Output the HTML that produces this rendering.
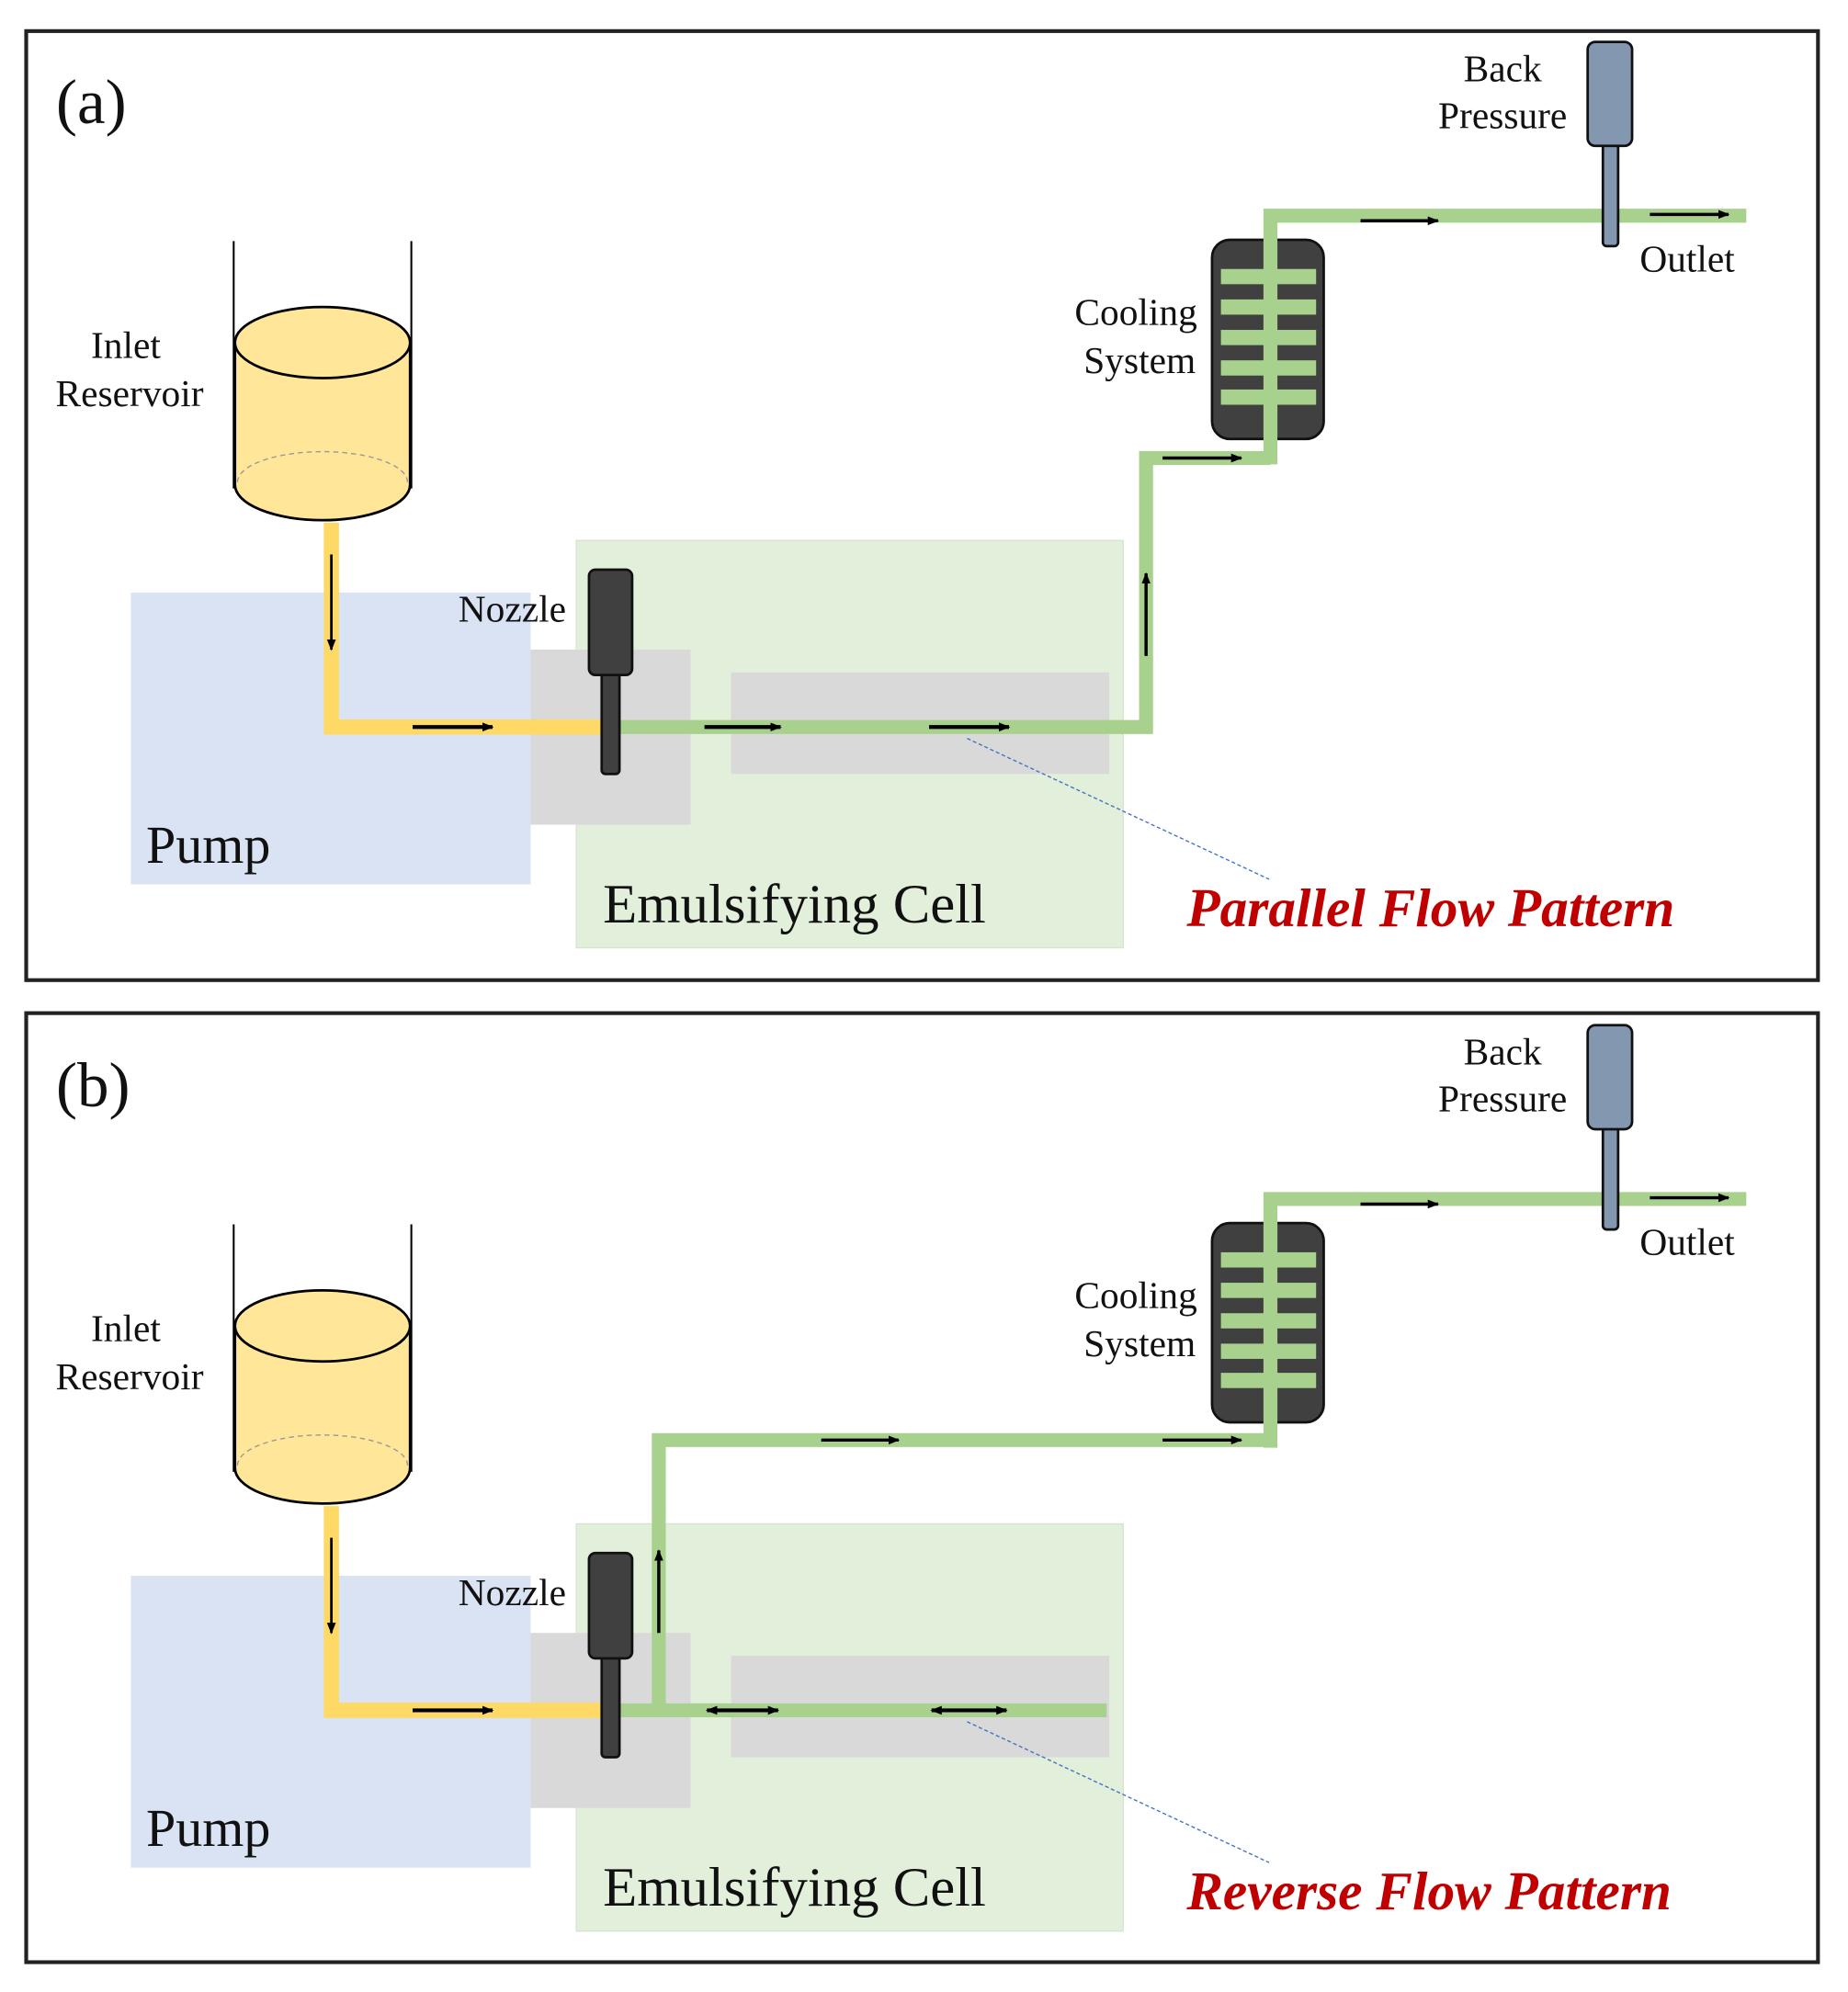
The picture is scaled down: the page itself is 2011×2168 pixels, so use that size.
<!DOCTYPE html>
<html><head><meta charset="utf-8"><style>
html,body{margin:0;padding:0;background:#fff}
svg{display:block;font-family:"Liberation Serif","Times New Roman",serif}
</style></head><body>
<svg width="2011" height="2168" viewBox="0 0 1456 1570" xmlns="http://www.w3.org/2000/svg" font-family="Liberation Serif, serif" fill="#111">
<defs>
<marker id="ah" markerWidth="10" markerHeight="10" refX="8" refY="5" orient="auto" markerUnits="userSpaceOnUse"><path d="M0,1.5 L9,5 L0,8.5 Z" fill="#000"/></marker>
<marker id="at" markerWidth="10" markerHeight="10" refX="1" refY="5" orient="auto" markerUnits="userSpaceOnUse"><path d="M9,1.5 L0,5 L9,8.5 Z" fill="#000"/></marker>
<g id="common">
  <line x1="184" y1="190" x2="184" y2="385" stroke="#000" stroke-width="1.5"/>
  <line x1="324" y1="190" x2="324" y2="385" stroke="#000" stroke-width="1.5"/>
  <path d="M185,270 L185,382 A69,28 0 0 0 323,382 L323,270 Z" fill="#ffe699" stroke="#000" stroke-width="2"/>
  <ellipse cx="254" cy="270" rx="69" ry="28" fill="#ffe699" stroke="#000" stroke-width="2"/>
  <path d="M187,380 A67,24 0 0 1 321,380" fill="none" stroke="#999" stroke-width="1" stroke-dasharray="4,3"/>
  <text x="99" y="282" font-size="30" text-anchor="middle" font-family="Liberation Serif, serif">Inlet</text>
  <text x="102" y="320" font-size="30" text-anchor="middle" font-family="Liberation Serif, serif">Reservoir</text>
  <rect x="103" y="467" width="315" height="230" fill="#dae3f3"/>
  <text x="115" y="680" font-size="42" font-family="Liberation Serif, serif">Pump</text>
  <rect x="454" y="426" width="431" height="321" fill="#e2efda" stroke="#d8e4d0"/>
  <text x="475" y="727" font-size="44" font-family="Liberation Serif, serif">Emulsifying Cell</text>
  <rect x="418" y="512" width="126" height="138" fill="#d9d9d9"/>
  <rect x="576" y="530" width="298" height="80" fill="#d9d9d9"/>
  <path d="M261,412 L261,573 L475,573" fill="none" stroke="#ffd966" stroke-width="12"/>
  <line x1="261" y1="437" x2="261" y2="512" stroke="#000" stroke-width="2" marker-end="url(#ah)"/>
  <line x1="325" y1="573" x2="388" y2="573" stroke="#000" stroke-width="3" marker-end="url(#ah)"/>
  <rect x="955" y="189" width="88" height="157" rx="14" fill="#404040" stroke="#111" stroke-width="2"/>
  <g fill="#a9d18e">
    <rect x="962" y="212" width="75" height="12"/><rect x="962" y="236" width="75" height="12"/>
    <rect x="962" y="260" width="75" height="12"/><rect x="962" y="284" width="75" height="12"/>
    <rect x="962" y="307" width="75" height="12"/>
  </g>
  <text x="895" y="256" font-size="30" text-anchor="middle" font-family="Liberation Serif, serif">Cooling</text>
  <text x="898" y="294" font-size="30" text-anchor="middle" font-family="Liberation Serif, serif">System</text>
  <path d="M1001,366 L1001,170 L1376,170" fill="none" stroke="#a9d18e" stroke-width="11"/>
  <line x1="1072" y1="174" x2="1133" y2="174" stroke="#000" stroke-width="2.5" marker-end="url(#ah)"/>
  <line x1="1300" y1="169" x2="1362" y2="169" stroke="#000" stroke-width="2.5" marker-end="url(#ah)"/>
  <rect x="1263" y="112" width="12" height="82" rx="3" fill="#8497b0" stroke="#111" stroke-width="2"/>
  <rect x="1251" y="33" width="35" height="82" rx="6" fill="#8497b0" stroke="#111" stroke-width="2"/>
  <text x="1184" y="64" font-size="30" text-anchor="middle" font-family="Liberation Serif, serif">Back</text>
  <text x="1184" y="101" font-size="30" text-anchor="middle" font-family="Liberation Serif, serif">Pressure</text>
  <text x="1292" y="214" font-size="30" font-family="Liberation Serif, serif">Outlet</text>
  <text x="361" y="490" font-size="30" font-family="Liberation Serif, serif">Nozzle</text>
  <line x1="762" y1="582" x2="1000" y2="693" stroke="#4472c4" stroke-width="1" stroke-dasharray="3,2"/>
</g>
<g id="nozzle">
  <rect x="474" y="525" width="14" height="85" rx="3" fill="#404040" stroke="#111" stroke-width="2"/>
  <rect x="464" y="449" width="34" height="83" rx="5" fill="#404040" stroke="#111" stroke-width="2"/>
</g>
</defs>

<rect x="20.5" y="24.5" width="1412" height="748" fill="#fff" stroke="#222" stroke-width="3"/>
<use href="#common"/>
<path d="M475,573 L903,573 L903,361 L1001,361" fill="none" stroke="#a9d18e" stroke-width="11"/>
<line x1="555" y1="573" x2="615" y2="573" stroke="#000" stroke-width="3" marker-end="url(#ah)"/>
<line x1="732" y1="573" x2="795" y2="573" stroke="#000" stroke-width="3" marker-end="url(#ah)"/>
<line x1="903" y1="517" x2="903" y2="452" stroke="#000" stroke-width="2.5" marker-end="url(#ah)"/>
<line x1="916" y1="361" x2="978" y2="361" stroke="#000" stroke-width="2.5" marker-end="url(#ah)"/>
<use href="#nozzle"/>
<text x="44" y="97" font-size="50" font-family="Liberation Serif, serif">(a)</text>
<text x="935" y="730" font-size="43" font-weight="bold" font-style="italic" fill="#c00000" font-family="Liberation Serif, serif">Parallel Flow Pattern</text>

<rect x="20.5" y="798.5" width="1412" height="748" fill="#fff" stroke="#222" stroke-width="3"/>
<g transform="translate(0,775)">
<use href="#common"/>
<path d="M475,573 L872,573" fill="none" stroke="#a9d18e" stroke-width="11"/>
<path d="M519,573 L519,360 L1001,360" fill="none" stroke="#a9d18e" stroke-width="11"/>
<line x1="557" y1="573" x2="613" y2="573" stroke="#000" stroke-width="3" marker-start="url(#at)" marker-end="url(#ah)"/>
<line x1="734" y1="573" x2="793" y2="573" stroke="#000" stroke-width="3" marker-start="url(#at)" marker-end="url(#ah)"/>
<line x1="519" y1="512" x2="519" y2="447" stroke="#000" stroke-width="2.5" marker-end="url(#ah)"/>
<line x1="647" y1="360" x2="708" y2="360" stroke="#000" stroke-width="2.5" marker-end="url(#ah)"/>
<line x1="916" y1="360" x2="978" y2="360" stroke="#000" stroke-width="2.5" marker-end="url(#ah)"/>
<use href="#nozzle"/>
<text x="44" y="97" font-size="50" font-family="Liberation Serif, serif">(b)</text>
<text x="935" y="730" font-size="43" font-weight="bold" font-style="italic" fill="#c00000" font-family="Liberation Serif, serif">Reverse Flow Pattern</text>
</g>
</svg>
</body></html>
